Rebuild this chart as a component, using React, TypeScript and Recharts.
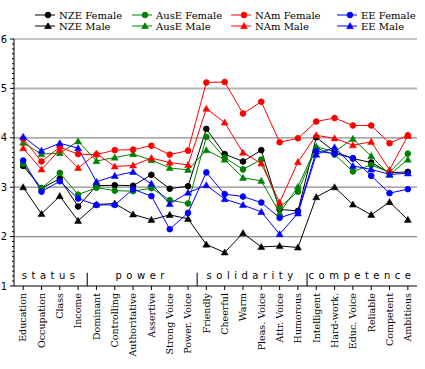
import { LineChart, Line, XAxis, YAxis, ReferenceLine, ReferenceDot } from 'recharts';

const categories = [
  'Education', 'Occupation', 'Class', 'Income',
  'Dominant', 'Controlling', 'Authoritative', 'Assertive', 'Strong Voice', 'Power. Voice',
  'Friendly', 'Cheerful', 'Warm', 'Pleas. Voice', 'Attr. Voice', 'Humorous',
  'Intelligent', 'Hard-work.', 'Educ. Voice', 'Reliable', 'Competent', 'Ambitious',
];

const groupNames = ['status', 'power', 'solidarity', 'competence'];
const groupSizes = [4, 6, 6, 6];

const nzeFemale = [3.43, 2.98, 3.17, 2.61, 3.03, 3.04, 3.03, 3.25, 2.97, 3.02, 4.18, 3.67, 3.52, 3.75, 2.55, 2.52, 4.01, 3.72, 3.58, 3.5, 3.29, 3.31];
const nzeMale = [3.0, 2.46, 2.82, 2.32, 2.65, 2.67, 2.45, 2.34, 2.44, 2.36, 1.84, 1.68, 2.07, 1.79, 1.81, 1.78, 2.8, 3.0, 2.65, 2.44, 2.7, 2.34];
const auseFemale = [3.47, 2.98, 3.29, 2.85, 2.99, 2.93, 2.92, 2.98, 2.74, 2.67, 4.02, 3.6, 3.36, 3.56, 2.59, 2.91, 3.79, 3.66, 3.32, 3.45, 3.3, 3.68];
const auseMale = [3.9, 3.67, 3.69, 3.93, 3.53, 3.6, 3.67, 3.55, 3.39, 3.35, 3.75, 3.56, 3.19, 3.13, 2.48, 3.01, 3.82, 3.72, 3.98, 3.63, 3.25, 3.56];
const namFemale = [3.98, 3.52, 3.81, 3.67, 3.66, 3.75, 3.76, 3.84, 3.66, 3.74, 5.12, 5.13, 4.49, 4.73, 3.91, 3.99, 4.33, 4.4, 4.25, 4.25, 3.89, 4.05];
const namMale = [3.79, 3.36, 3.76, 3.39, 3.68, 3.42, 3.44, 3.59, 3.5, 3.45, 4.59, 4.31, 3.7, 3.48, 2.69, 3.51, 4.05, 3.99, 3.85, 3.92, 3.35, 4.04];
const eeFemale = [3.54, 2.91, 3.12, 2.77, 2.64, 2.64, 2.96, 2.82, 2.15, 2.48, 3.3, 2.86, 2.81, 2.69, 2.38, 2.5, 3.73, 3.68, 3.59, 3.23, 2.88, 2.96];
const eeMale = [4.02, 3.74, 3.89, 3.79, 3.11, 3.23, 3.31, 3.07, 2.66, 2.89, 3.04, 2.76, 2.64, 2.5, 2.05, 2.47, 3.66, 3.81, 3.43, 3.36, 3.26, 3.28];

const yLabels = [1, 2, 3, 4, 5, 6];

const series = [
  { key: 'nzeF', name: 'NZE Female', values: nzeFemale, color: '#000000', marker: 'circle' },
  { key: 'nzeM', name: 'NZE Male', values: nzeMale, color: '#000000', marker: 'triangle' },
  { key: 'auseF', name: 'AusE Female', values: auseFemale, color: '#008000', marker: 'circle' },
  { key: 'auseM', name: 'AusE Male', values: auseMale, color: '#008000', marker: 'triangle' },
  { key: 'namF', name: 'NAm Female', values: namFemale, color: '#ff0000', marker: 'circle' },
  { key: 'namM', name: 'NAm Male', values: namMale, color: '#ff0000', marker: 'triangle' },
  { key: 'eeF', name: 'EE Female', values: eeFemale, color: '#0000ff', marker: 'circle' },
  { key: 'eeM', name: 'EE Male', values: eeMale, color: '#0000ff', marker: 'triangle' },
];

const data = categories.map((name, i) => {
  const row: { [k: string]: number | string } = { i, name };
  series.forEach((s) => (row[s.key] = s.values[i]));
  return row;
});

// group centres and boundaries in category index units
const groupStarts = groupSizes.map((_, g) => groupSizes.slice(0, g).reduce((a, b) => a + b, 0));
const groupCenters = groupSizes.map((n, g) => groupStarts[g] + (n - 1) / 2);
const groupBounds = groupStarts.slice(1).map((s) => s - 0.5);

const minorTicks = Array.from({ length: 51 }, (_, k) => Math.round((1 + k / 10) * 10) / 10);

const serif = '"DejaVu Serif", serif';
const sans = '"DejaVu Sans", sans-serif';

const triangle = (cx: number, cy: number, s = 3.5) =>
  `M${cx},${cy - s}L${cx + s},${cy + s * 0.75}L${cx - s},${cy + s * 0.75}Z`;

function Marker({ type, cx, cy, color }: { type: string; cx: number; cy: number; color: string }) {
  if (type === 'triangle') return <path d={triangle(cx, cy)} fill={color} stroke={color} strokeWidth={0.5} />;
  return <circle cx={cx} cy={cy} r={2.8} fill={color} stroke={color} />;
}

function LeftTick({ x, y, payload }: any) {
  const major = Number.isInteger(payload.value);
  return (
    <g>
      <line x1={x - (major ? 4 : 2)} x2={x} y1={y} y2={y} stroke="#000" />
      {major && (
        <text x={x - 7} y={y} dy="0.35em" textAnchor="end" fontSize={10} fontFamily={sans} fill="#000">
          {payload.value}
        </text>
      )}
    </g>
  );
}

function RightTick({ x, y, payload }: any) {
  const major = Number.isInteger(payload.value);
  return <line x1={x - (major ? 3 : 2)} x2={x} y1={y} y2={y} stroke="#000" strokeWidth={major ? 1.5 : 1} />;
}

function BottomTick({ x, y, payload }: any) {
  return (
    <text
      x={x}
      y={y}
      dy="0.35em"
      transform={`rotate(-90, ${x}, ${y})`}
      textAnchor="end"
      fontSize={9.5}
      fontFamily={serif}
      fill="#000"
    >
      {categories[payload.value]}
    </text>
  );
}

function LegendBox() {
  const cols = [35, 132, 231, 337];
  return (
    <svg width={425} height={36} style={{ position: 'absolute', left: 0, top: 0 }}>
      {[0, 1, 2, 3].map((c) =>
        [0, 1].map((r) => {
          const s = series[c * 2 + r];
          const y = 15 + r * 11;
          const x = cols[c];
          return (
            <g key={s.key}>
              <line x1={x} x2={x + 20} y1={y} y2={y} stroke={s.color} />
              <Marker type={s.marker} cx={x + 13} cy={y} color={s.color} />
              <text x={x + 24} y={y} dy="0.35em" fontSize={10} fontFamily={serif} fill="#000">
                {s.name}
              </text>
            </g>
          );
        })
      )}
    </svg>
  );
}

export default function App() {
  return (
    <div style={{ position: 'absolute', left: 0, top: 0, width: 425, height: 369, background: '#fff' }}>
      <LineChart width={425} height={369} data={data} margin={{ top: 39, right: 4, left: 0, bottom: 0 }}>
        <XAxis
          dataKey="i"
          type="number"
          domain={[-0.5, categories.length - 0.5]}
          ticks={categories.map((_, i) => i)}
          interval={0}
          height={83}
          tickSize={4}
          tickMargin={3}
          tick={<BottomTick />}
          stroke="#000"
          allowDataOverflow
        />
        <YAxis
          yAxisId="l"
          domain={[1, 6]}
          ticks={minorTicks}
          interval={0}
          width={14}
          tickSize={0}
          tickMargin={0}
          tickLine={false}
          tick={<LeftTick />}
          stroke="#000"
        />
        <YAxis
          yAxisId="r"
          orientation="right"
          domain={[1, 6]}
          ticks={minorTicks}
          interval={0}
          width={4}
          tickSize={0}
          tickMargin={0}
          tickLine={false}
          axisLine={false}
          tick={<RightTick />}
        />
        {yLabels.slice(1).map((v) => (
          <ReferenceLine
            key={v}
            yAxisId="l"
            y={v}
            stroke={v === 5 ? '#b4b4b4' : '#8c8c8c'}
            strokeWidth={v === 5 ? 2 : 1.2}
          />
        ))}
        {groupBounds.map((b) => (
          <ReferenceLine
            key={b}
            yAxisId="l"
            segment={[{ x: b, y: 1 }, { x: b, y: 1.27 }]}
            stroke="#333"
            strokeWidth={1.3}
          />
        ))}
        {groupNames.map((g, k) => (
          <ReferenceDot
            key={g}
            yAxisId="l"
            x={groupCenters[k]}
            y={1.22}
            r={0}
            shape={(p: any) => (
              <text
                x={p.cx}
                y={p.cy}
                dy="0.35em"
                textAnchor="middle"
                fontSize={10}
                fontFamily={sans}
                letterSpacing={4.5}
                fill="#000"
              >
                {g}
              </text>
            )}
          />
        ))}
        {series.map((s) => (
          <Line
            key={s.key}
            yAxisId="l"
            dataKey={s.key}
            name={s.name}
            stroke={s.color}
            strokeWidth={1}
            isAnimationActive={false}
            dot={(p: any) => <Marker key={`${s.key}-${p.index}`} type={s.marker} cx={p.cx} cy={p.cy} color={s.color} />}
            activeDot={false}
          />
        ))}
      </LineChart>
      <LegendBox />
    </div>
  );
}
